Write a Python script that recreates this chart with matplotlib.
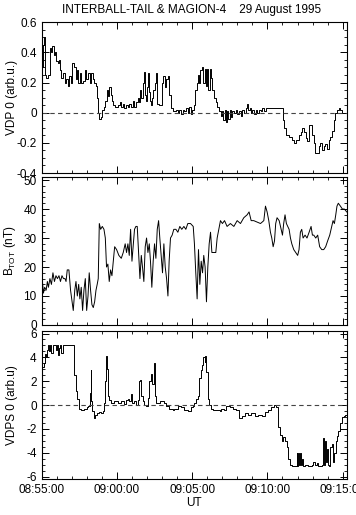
import matplotlib
matplotlib.use("Agg")
import matplotlib.pyplot as plt
from matplotlib.ticker import MultipleLocator, FixedLocator

plt.rcParams['font.family'] = ['Liberation Sans', 'DejaVu Sans']
plt.rcParams['axes.unicode_minus'] = False

# time in minutes after 08:55:00
XTICKS = [0, 5, 10, 15, 20]
XLABELS = ["08:55:00", "09:00:00", "09:05:00", "09:10:00", "09:15:00"]

# VDP 0 (arb.u.)
t_vdp = [0.04, 0.09, 0.15, 0.2, 0.31, 0.42, 0.53, 0.64, 0.71, 0.79, 0.86, 0.97, 1.08, 1.15,
         1.24, 1.3, 1.41, 1.52, 1.63, 1.74, 1.85, 1.96, 2.03, 2.12, 2.25, 2.34, 2.43, 2.52,
         2.63, 2.74, 2.85, 2.96, 3.07, 3.18, 3.29, 3.4, 3.51, 3.62, 3.69, 3.75, 3.82, 3.91,
         4.0, 4.11, 4.24, 4.33, 4.42, 4.5, 4.59, 4.68, 4.77, 4.9, 5.06, 5.21, 5.3, 5.39, 5.5,
         5.61, 5.72, 5.83, 5.94, 6.05, 6.16, 6.27, 6.38, 6.45, 6.53, 6.62, 6.71, 6.8, 6.87,
         6.93, 7.0, 7.06, 7.13, 7.2, 7.26, 7.33, 7.42, 7.51, 7.59, 7.66, 7.77, 7.88, 7.99,
         8.08, 8.17, 8.26, 8.37, 8.48, 8.57, 8.7, 8.92, 9.03, 9.14, 9.25, 9.36, 9.47, 9.58,
         9.69, 9.8, 9.91, 10.02, 10.09, 10.2, 10.29, 10.38, 10.46, 10.55, 10.64, 10.73, 10.82,
         10.91, 10.99, 11.08, 11.17, 11.26, 11.35, 11.46, 11.57, 11.68, 11.79, 11.9, 12.01,
         12.08, 12.16, 12.23, 12.32, 12.41, 12.49, 12.58, 12.67, 12.78, 12.89, 13.0, 13.11,
         13.22, 13.33, 13.44, 13.55, 13.66, 13.73, 13.82, 13.91, 14.0, 14.11, 14.22, 14.33,
         14.44, 14.55, 14.66, 14.77, 14.88, 15.98, 16.03, 16.11, 16.25, 16.42, 16.6, 16.75,
         16.91, 17.09, 17.2, 17.31, 17.42, 17.53, 17.64, 17.75, 17.88, 17.97, 18.08, 18.19,
         18.3, 18.41, 18.52, 18.63, 18.74, 18.85, 18.96, 19.07, 19.18, 19.29, 19.4, 19.51,
         19.62, 19.74, 19.85, 19.96, 20.27]
vdp = [0.30, 0.45, 0.50, 0.25, 0.23, 0.25, 0.43, 0.40, 0.44, 0.38, 0.40, 0.34, 0.33, 0.35,
       0.28, 0.23, 0.26, 0.20, 0.22, 0.18, 0.24, 0.20, 0.33, 0.30, 0.22, 0.28, 0.20, 0.26,
       0.20, 0.21, 0.28, 0.22, 0.26, 0.20, 0.26, 0.22, 0.20, 0.18, 0.10, 0.00, -0.04, -0.03,
       0.02, 0.04, 0.08, 0.15, 0.11, 0.17, 0.12, 0.08, 0.05, 0.04, 0.05, 0.07, 0.04, 0.06,
       0.03, 0.05, 0.04, 0.06, 0.04, 0.08, 0.04, 0.07, 0.10, 0.07, 0.15, 0.10, 0.20, 0.27,
       0.12, 0.08, 0.17, 0.26, 0.14, 0.08, 0.05, 0.10, 0.15, 0.20, 0.26, 0.06, 0.05, 0.05,
       0.20, 0.24, 0.17, 0.22, 0.24, 0.12, 0.03, 0.01, 0.02, 0.00, 0.02, -0.01, 0.02, 0.01,
       0.03, 0.00, 0.04, -0.01, 0.02, 0.05, 0.15, 0.20, 0.25, 0.20, 0.28, 0.30, 0.20, 0.29,
       0.18, 0.29, 0.15, 0.29, 0.23, 0.15, 0.10, 0.07, 0.04, 0.01, -0.02, 0.01, -0.05, 0.02,
       -0.06, 0.01, -0.04, 0.02, -0.03, 0.01, 0.00, 0.02, -0.01, 0.01, -0.02, 0.02, 0.00,
       0.03, 0.06, 0.02, 0.03, 0.00, 0.02, -0.01, 0.02, 0.00, 0.02, 0.01, 0.03, 0.01, 0.03,
       0.03, -0.05, -0.10, -0.15, -0.16, -0.18, -0.20, -0.18, -0.15, -0.13, -0.10, -0.13,
       -0.17, -0.19, -0.08, -0.08, -0.15, -0.20, -0.27, -0.27, -0.22, -0.20, -0.25, -0.22,
       -0.21, -0.24, -0.18, -0.16, -0.12, -0.05, 0.00, 0.02, 0.03, 0.02, 0.00, -0.01]

# B_TOT (nT)
t_b = [0.0, 0.05, 0.12, 0.2, 0.3, 0.38, 0.45, 0.55, 0.65, 0.75, 0.85, 0.95, 1.05, 1.15, 1.25,
       1.35, 1.45, 1.55, 1.62, 1.7, 1.81, 1.92, 2.1, 2.2, 2.28, 2.37, 2.46, 2.54, 2.63, 2.72,
       2.81, 2.9, 2.99, 3.08, 3.16, 3.25, 3.34, 3.43, 3.52, 3.61, 3.69, 3.76, 3.83, 3.92, 4.03,
       4.14, 4.23, 4.31, 4.4, 4.49, 4.58, 4.67, 4.76, 4.85, 4.98, 5.13, 5.29, 5.42, 5.55, 5.64,
       5.73, 5.82, 5.91, 6.0, 6.08, 6.17, 6.26, 6.35, 6.44, 6.53, 6.62, 6.7, 6.79, 6.88, 6.97,
       7.06, 7.15, 7.23, 7.32, 7.41, 7.5, 7.59, 7.68, 7.77, 7.85, 7.94, 8.03, 8.12, 8.21, 8.3,
       8.39, 8.47, 8.56, 8.67, 8.78, 8.92, 9.05, 9.18, 9.31, 9.45, 9.58, 9.71, 9.89, 10.07,
       10.15, 10.24, 10.33, 10.42, 10.51, 10.6, 10.69, 10.77, 10.86, 10.95, 11.04, 11.13,
       11.22, 11.31, 11.44, 11.57, 11.66, 11.77, 11.88, 12.01, 12.15, 12.32, 12.54, 12.77,
       12.99, 13.21, 13.43, 13.65, 13.78, 13.92, 14.09, 14.54, 14.76, 14.87, 14.98, 15.09,
       15.2, 15.29, 15.38, 15.47, 15.55, 15.64, 15.78, 15.91, 16.0, 16.08, 16.17, 16.26, 16.35,
       16.44, 16.53, 16.62, 16.75, 16.88, 17.01, 17.1, 17.19, 17.28, 17.37, 17.5, 17.63,
       17.77, 17.9, 17.99, 18.08, 18.21, 18.34, 18.47, 18.61, 18.74, 18.87, 19.0, 19.14,
       19.27, 19.36, 19.45, 19.54, 19.62, 19.71, 19.85, 19.98, 20.11, 20.27]
btot = [15, 15, 11, 13, 12, 15, 13, 16, 14, 18, 15, 17, 16, 17, 15, 17, 16, 16, 15, 19, 19,
        12, 5, 12, 15, 10, 14, 9, 13, 5, 12, 16, 5, 10, 18, 12, 7, 6, 8, 12, 14, 16, 35, 33,
        34, 33, 30, 20, 21, 15, 19, 17, 22, 27, 26, 24, 23, 25, 28, 25, 28, 24, 33, 22, 27,
        33, 34, 34, 25, 16, 24, 20, 15, 27, 30, 25, 28, 22, 13, 22, 28, 23, 33, 36, 30, 24,
        18, 28, 20, 16, 10, 22, 30, 31, 33, 33, 32, 34, 33, 34, 33, 35, 35, 34, 28, 18, 9, 26,
        14, 22, 18, 24, 20, 8, 20, 28, 32, 25, 25, 25, 30, 33, 36, 35, 36, 34, 35, 34, 36, 35,
        37, 38, 39, 36, 36, 35, 36, 41, 39, 36, 32, 30, 27, 29, 35, 37, 36, 33, 31, 35, 38, 35,
        34, 33, 30, 28, 26, 25, 24, 26, 32, 33, 30, 31, 30, 32, 34, 31, 31, 30, 31, 27, 26, 26,
        27, 29, 31, 34, 36, 35, 38, 41, 42, 41, 40, 40, 39]

# VDPS 0 (arb.u)
t_vdps = [0.09, 0.15, 0.22, 0.29, 0.35, 0.42, 0.49, 0.55, 0.64, 0.73, 0.82, 0.93, 1.0, 1.08,
          1.15, 1.22, 1.31, 1.39, 1.48, 1.7, 2.04, 2.15, 2.26, 2.37, 2.48, 2.59, 2.81, 2.99,
          3.1, 3.19, 3.25, 3.3, 3.37, 3.45, 3.54, 3.7, 3.83, 3.96, 4.05, 4.14, 4.23, 4.3, 4.36,
          4.43, 4.5, 4.63, 4.81, 5.04, 5.26, 5.44, 5.6, 5.71, 5.82, 5.93, 6.0, 6.11, 6.26, 6.38,
          6.44, 6.53, 6.6, 6.71, 6.82, 6.93, 7.04, 7.15, 7.26, 7.35, 7.44, 7.5, 7.59, 7.7, 7.88,
          8.04, 8.15, 8.26, 8.48, 8.7, 8.81, 9.04, 9.27, 9.49, 9.71, 9.89, 10.04, 10.15, 10.26,
          10.37, 10.48, 10.6, 10.68, 10.75, 10.82, 10.88, 10.95, 11.02, 11.11, 11.27, 11.37,
          11.48, 11.71, 11.82, 11.93, 12.11, 12.27, 12.49, 12.72, 12.94, 13.1, 13.28, 13.5,
          13.72, 13.94, 14.17, 14.39, 14.61, 14.83, 15.05, 15.27, 15.45, 15.54, 15.68, 15.83,
          15.94, 16.05, 16.17, 16.28, 16.39, 16.5, 16.61, 16.83, 16.95, 16.99, 17.06, 17.12,
          17.19, 17.26, 17.32, 17.39, 17.5, 17.72, 17.94, 18.05, 18.16, 18.27, 18.38, 18.61,
          18.67, 18.74, 18.81, 18.87, 18.94, 19.01, 19.1, 19.19, 19.28, 19.37, 19.45, 19.54,
          19.63, 19.72, 19.83, 19.94, 20.07, 20.16, 20.27]
vdps = [3.2, 3.5, 4.3, 4.0, 4.6, 5.0, 4.5, 5.0, 4.4, 5.0, 5.0, 4.6, 5.0, 4.2, 4.8, 5.0, 4.4,
        5.0, 5.0, 5.0, 5.0, 2.5, 1.2, 0.5, -0.3, -0.4, -0.35, -0.2, -0.1, 1.0, 2.9, 0.3, -0.5,
        -1.1, -0.8, -0.7, -0.6, -0.7, -0.5, 0.2, 2.0, 4.1, 3.0, 0.8, 0.4, 0.2, 0.3, 0.2, 0.3,
        0.1, 0.4, 0.5, 0.3, 0.9, 0.2, 0.3, 0.0, 0.4, 2.0, 2.1, 0.8, 0.3, 0.0, -0.1, 0.6, 2.0,
        2.6, 1.8, 3.5, 0.8, 0.2, 0.2, 0.3, 0.3, 0.2, -0.1, -0.3, -0.4, -0.3, -0.1, -0.2, -0.4,
        -0.5, -0.2, -0.1, 0.2, 0.5, 0.8, 2.3, 2.9, 3.4, 4.0, 3.6, 4.1, 2.8, 0.5, 0.0, -0.3,
        -0.4, -0.4, -0.4, -0.5, -0.3, -0.4, -0.1, -0.2, -0.3, -0.4, -1.1, -0.9, -0.7, -0.8,
        -0.7, -0.9, -0.8, -0.9, -0.6, -0.4, -0.2, 0.0, -0.2, -1.8, -2.5, -3.0, -2.7, -3.0,
        -3.5, -4.5, -5.0, -5.1, -5.1, -4.0, -5.1, -4.0, -5.0, -4.0, -5.0, -4.5, -5.1, -5.0,
        -5.1, -5.0, -4.8, -5.0, -4.9, -5.1, -5.0, -2.8, -5.0, -3.0, -4.8, -3.7, -5.0, -5.1,
        -3.5, -3.3, -4.8, -4.0, -3.0, -2.6, -2.2, -1.5, -1.0, -0.9, -0.8, -0.5]

fig = plt.figure(figsize=(3.56, 5.15), dpi=100)
ax1 = fig.add_axes([0.117, 0.664, 0.857, 0.293])
ax2 = fig.add_axes([0.117, 0.369, 0.857, 0.287])
ax3 = fig.add_axes([0.117, 0.070, 0.857, 0.287])

FS = 8.5

ax1.plot(t_vdp, vdp, color='black', lw=0.7, drawstyle='steps-post')
ax2.plot(t_b, btot, color='black', lw=0.7)
ax3.plot(t_vdps, vdps, color='black', lw=0.7, drawstyle='steps-post')

for ax in (ax1, ax3):
    ax.axhline(0, color='#444444', lw=0.8, ls=(0, (4, 3)))

ax1.set_ylim(-0.4, 0.6)
ax1.yaxis.set_major_locator(FixedLocator([-0.4, -0.2, 0, 0.2, 0.4, 0.6]))
ax1.set_yticklabels(['-0.4', '-0.2', '0', '0.2', '0.4', '0.6'])
ax1.yaxis.set_minor_locator(MultipleLocator(0.05))
ax1.set_ylabel('VDP 0 (arb.u.)', fontsize=FS)

ax2.set_ylim(0, 51)
ax2.yaxis.set_major_locator(FixedLocator([0, 10, 20, 30, 40, 50]))
ax2.yaxis.set_minor_locator(MultipleLocator(2))
ax2.set_ylabel(r'B$_{\mathregular{TOT}}$ (nT)', fontsize=FS)

ax3.set_ylim(-6.2, 6.2)
ax3.yaxis.set_major_locator(FixedLocator([-6, -4, -2, 0, 2, 4, 6]))
ax3.set_yticklabels(['-6', '-4', '-2', '0', '2', '4', '6'])
ax3.yaxis.set_minor_locator(MultipleLocator(0.5))
ax3.set_ylabel('VDPS 0 (arb.u)', fontsize=FS)

for ax in (ax1, ax2, ax3):
    ax.set_xlim(0, 20.27)
    ax.xaxis.set_major_locator(FixedLocator(XTICKS))
    ax.xaxis.set_minor_locator(MultipleLocator(1))
    ax.tick_params(which='both', direction='in', top=True, right=True, labelsize=FS)
    ax.tick_params(which='major', length=5, width=0.7)
    ax.tick_params(which='minor', length=2.5, width=0.6)
    for s in ax.spines.values():
        s.set_linewidth(0.8)
    ax.yaxis.set_label_coords(-0.078, 0.5)

ax1.set_xticklabels([])
ax2.set_xticklabels([])
ax3.set_xticklabels(XLABELS)
ax3.set_xlabel('UT', fontsize=FS, labelpad=1)

fig.text(0.539, 0.981, 'INTERBALL-TAIL & MAGION-4    29 August 1995',
         ha='center', va='center', fontsize=FS)

fig.savefig('out.png', dpi=100)
